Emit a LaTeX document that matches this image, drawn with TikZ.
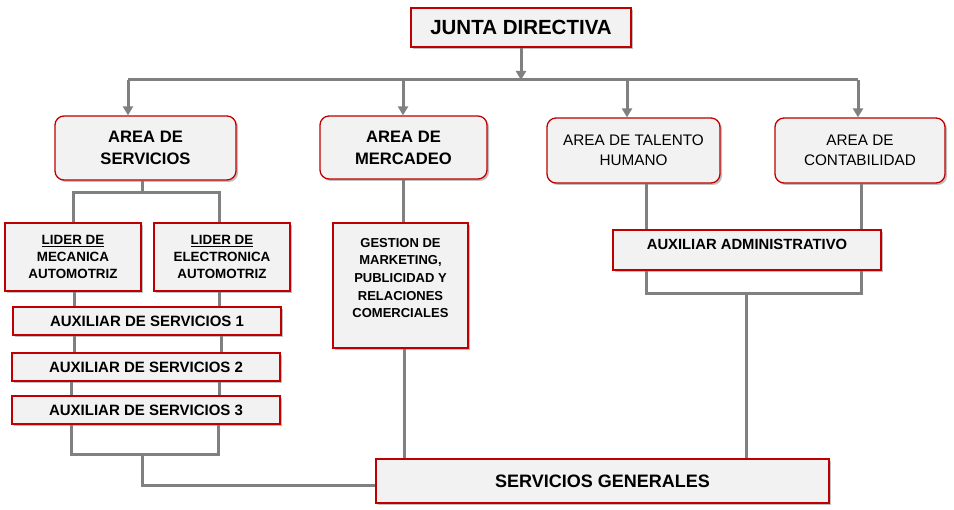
\documentclass[tikz,border=0pt]{standalone}
\usepackage{fontspec}
\setmainfont{Liberation Sans}
\usetikzlibrary{arrows.meta,shadows}
\definecolor{bred}{RGB}{192,0,0}
\definecolor{bfill}{RGB}{242,242,242}
\definecolor{lgray}{RGB}{128,128,128}
\tikzset{
  box/.style={draw=bred, line width=1.3pt, fill=bfill, inner sep=0pt, align=center,
    drop shadow={shadow xshift=2pt, shadow yshift=-2pt, opacity=0.25, fill=black}},
  rbox/.style={box, rounded corners=9pt},
  con/.style={draw=lgray, line width=3pt},
  arr/.style={con, -{Triangle[width=10pt,length=9pt]}},
  fJD/.style={font=\fontsize{20.5}{22}\selectfont\bfseries},
  fAR/.style={font=\fontsize{16.6}{22}\selectfont\bfseries},
  fAT/.style={font=\fontsize{15.3}{20}\selectfont},
  fLI/.style={font=\fontsize{13.4}{16.7}\selectfont\bfseries},
  fGM/.style={font=\fontsize{13}{17.7}\selectfont\bfseries},
  fAU/.style={font=\fontsize{15}{17}\selectfont\bfseries},
  fAA/.style={font=\fontsize{14.8}{17}\selectfont\bfseries},
  fSG/.style={font=\fontsize{18}{20}\selectfont\bfseries},
}
\begin{document}
\begin{tikzpicture}[x=1pt,y=-1pt]
\useasboundingbox (0,0) rectangle (954,510);
% boxes
\node[box, fJD, minimum width=220pt, minimum height=39pt] (jd) at (521,27.5) {JUNTA DIRECTIVA};
\node[rbox, fAR, minimum width=181pt, minimum height=64pt] (as) at (145.5,148) {AREA DE\\SERVICIOS};
\node[rbox, fAR, minimum width=167pt, minimum height=63pt] (am) at (403.5,147.5) {AREA DE\\MERCADEO};
\node[rbox, fAT, minimum width=173pt, minimum height=65pt] (at) at (633.5,150.5) {AREA DE TALENTO\\HUMANO};
\node[rbox, fAT, minimum width=170pt, minimum height=65pt] (ac) at (860,150.5) {AREA DE\\CONTABILIDAD};
\node[box, fLI, minimum width=136pt, minimum height=68pt] (lm) at (73,257) {\underline{LIDER DE}\\MECANICA\\AUTOMOTRIZ};
\node[box, fLI, minimum width=136pt, minimum height=68pt] (le) at (222,257) {\underline{LIDER DE}\\ELECTRONICA\\AUTOMOTRIZ};
\node[box, fAU, minimum width=268pt, minimum height=28pt] (a1) at (147,321) {AUXILIAR DE SERVICIOS 1};
\node[box, fAU, minimum width=268pt, minimum height=28pt] (a2) at (146,367) {AUXILIAR DE SERVICIOS 2};
\node[box, fAU, minimum width=268pt, minimum height=28pt] (a3) at (146,410) {AUXILIAR DE SERVICIOS 3};
\node[box, minimum width=135pt, minimum height=125pt] (gm) at (400.5,285.5) {};
\node[fGM, align=center] (gmt) at (400.5,278) {GESTION DE\\MARKETING,\\PUBLICIDAD Y\\RELACIONES\\COMERCIALES};
\node[box, minimum width=268pt, minimum height=40pt] (aa) at (747,250) {};
\node[fAA] (aat) at (747,244) {AUXILIAR ADMINISTRATIVO};
\node[box, fSG, minimum width=453pt, minimum height=44pt] (sg) at (602.5,481) {SERVICIOS GENERALES};
% top bus
\coordinate (bus) at (521,80);
\coordinate (bL) at (128,80);
\coordinate (b2) at (403,80);
\coordinate (b3) at (627,80);
\coordinate (bR) at (858,80);
\draw[con] (bL) -- (bR);
\draw[arr] (jd.south) -- (bus);
\draw[arr] (bL) -- (bL |- as.north);
\draw[arr] (b2) -- (b2 |- am.north);
\draw[arr] (b3) -- (b3 |- at.north);
\draw[arr] (bR) -- (bR |- ac.north);
% servicios fork
\coordinate (sf) at (142,193);
\coordinate (sfL) at (73,193);
\coordinate (sfR) at (219,193);
\draw[con] (sf |- as.south) -- (sf);
\draw[con] (sfL |- lm.north) -- (sfL) -- (sfR) -- (sfR |- le.north);
\draw[con] (74,0 |- lm.south) -- (74,0 |- a1.north);
\draw[con] (219,0 |- le.south) -- (219,0 |- a1.north);
\draw[con] (74,0 |- a1.south) -- (74,0 |- a2.north);
\draw[con] (221,0 |- a1.south) -- (221,0 |- a2.north);
\draw[con] (71,0 |- a2.south) -- (71,0 |- a3.north);
\draw[con] (219,0 |- a2.south) -- (219,0 |- a3.north);
\coordinate (jL) at (71,455);
\coordinate (jR) at (218,455);
\coordinate (jM) at (142,455);
\coordinate (jB) at (142,486);
\draw[con] (jL |- a3.south) -- (jL) -- (jR) -- (jR |- a3.south);
\draw[con] (jM) -- (jB) -- (jB -| sg.west);
% mercadeo
\draw[con] (403,0 |- am.south) -- (403,0 |- gm.north);
\draw[con] (404,0 |- gm.south) -- (404,0 |- sg.north);
% admin
\draw[con] (646,0 |- at.south) -- (646,0 |- aa.north);
\draw[con] (861,0 |- ac.south) -- (861,0 |- aa.north);
\coordinate (kL) at (646,294);
\coordinate (kR) at (861,294);
\coordinate (kM) at (746,294);
\draw[con] (kL |- aa.south) -- (kL) -- (kR) -- (kR |- aa.south);
\draw[con] (kM) -- (kM |- sg.north);
\end{tikzpicture}
\end{document}
